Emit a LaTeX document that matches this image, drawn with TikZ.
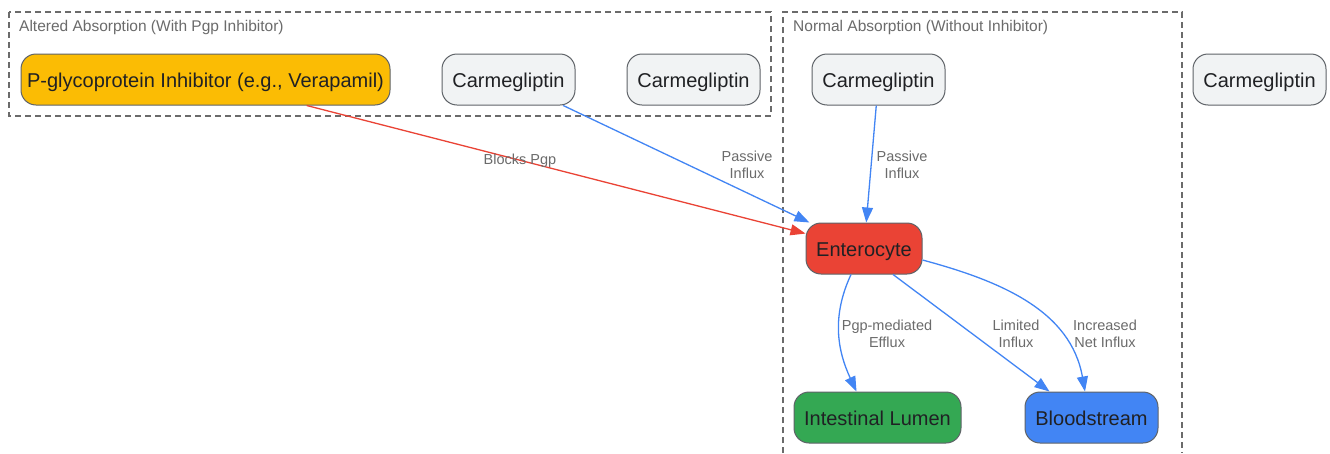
\documentclass[tikz,border=0pt]{standalone}
\usepackage{fontspec}
\setmainfont{Liberation Sans}
\usetikzlibrary{arrows.meta,calc}
\definecolor{txt}{HTML}{202124}
\definecolor{lblc}{HTML}{6B6B6B}
\definecolor{bordc}{HTML}{5F6368}
\definecolor{clc}{HTML}{6B6B6B}
\definecolor{orangef}{HTML}{FBBC04}
\definecolor{grayf}{HTML}{F1F3F4}
\definecolor{redf}{HTML}{EA4335}
\definecolor{greenf}{HTML}{34A853}
\definecolor{bluef}{HTML}{4285F4}
\tikzset{
  box/.style={draw=bordc, line width=1pt, rounded corners=15pt, minimum height=51pt,
    inner sep=0pt, text=txt, text height=16.5pt, text depth=0pt, font=\fontsize{20}{24}\selectfont},
  lbl/.style={text=lblc, align=center, font=\fontsize{14.5}{17}\selectfont, inner sep=0pt},
  cltitle/.style={text=clc, anchor=west, font=\fontsize{15.5}{18}\selectfont, inner sep=0pt},
  cluster/.style={draw=clc, line width=1.1pt, dash pattern=on 6pt off 4pt},
  bluearrow/.style={draw=bluef, line width=1.3pt, -{Triangle[length=15pt,width=11pt]}},
  redarrow/.style={draw=redf, line width=1.3pt, -{Triangle[length=15pt,width=11pt]}},
}
\begin{document}
\begin{tikzpicture}[x=1pt,y=1pt]
\useasboundingbox (0,0) rectangle (1330,-453);
\fill[white] (0,0) rectangle (1330,-453);
% clusters
\draw[cluster] (9,-12) rectangle (771,-116);
\node[cltitle] (t1) at (19,-27.5) {Altered Absorption (With Pgp Inhibitor)};
\draw[cluster] (783,-453) -- (783,-12) -- (1182,-12) -- (1182,-453);
\node[cltitle] (t2) at (793,-27.5) {Normal Absorption (Without Inhibitor)};
% nodes
\node[box, fill=orangef, minimum width=369pt] (inh) at (205.5,-79.5) {P-glycoprotein Inhibitor (e.g., Verapamil)};
\node[box, fill=grayf, minimum width=133pt] (c1) at (508.5,-79.5) {Carmegliptin};
\node[box, fill=grayf, minimum width=133pt] (c2) at (693.5,-79.5) {Carmegliptin};
\node[box, fill=grayf, minimum width=133pt] (c3) at (878.5,-79.5) {Carmegliptin};
\node[box, fill=grayf, minimum width=133pt] (c4) at (1259.5,-79.5) {Carmegliptin};
\node[box, fill=redf, minimum width=116pt] (ent) at (864,-248.5) {Enterocyte};
\node[box, fill=greenf, minimum width=167pt] (lumen) at (877.5,-417.5) {Intestinal Lumen};
\node[box, fill=bluef, minimum width=133pt] (blood) at (1091.5,-417.5) {Bloodstream};
% edges
\draw[redarrow] (inh) -- (ent);
\draw[bluearrow] (c1) -- (ent);
\draw[bluearrow] (c3) -- (ent);
\draw[bluearrow] ($(ent.south)+(-13,0)$) to[out=-115,in=115] ($(lumen.north)+(-21,0)$);
\draw[bluearrow] ($(ent.south)+(29,0)$) -- ($(blood.north)+(-42,0)$);
\draw[bluearrow] ($(ent.east)+(0,-11.5)$) to[out=-15,in=100] ($(blood.north)+(-6.5,0)$);
% labels
\node[lbl] (l1) at (520,-161) {Blocks Pgp};
\node[lbl] (l2) at (747,-165) {Passive\\Influx};
\node[lbl] (l3) at (902,-165) {Passive\\Influx};
\node[lbl] (l4) at (887,-334) {Pgp-mediated\\Efflux};
\node[lbl] (l5) at (1016,-334) {Limited\\Influx};
\node[lbl] (l6) at (1105,-334) {Increased\\Net Influx};
\end{tikzpicture}
\end{document}
